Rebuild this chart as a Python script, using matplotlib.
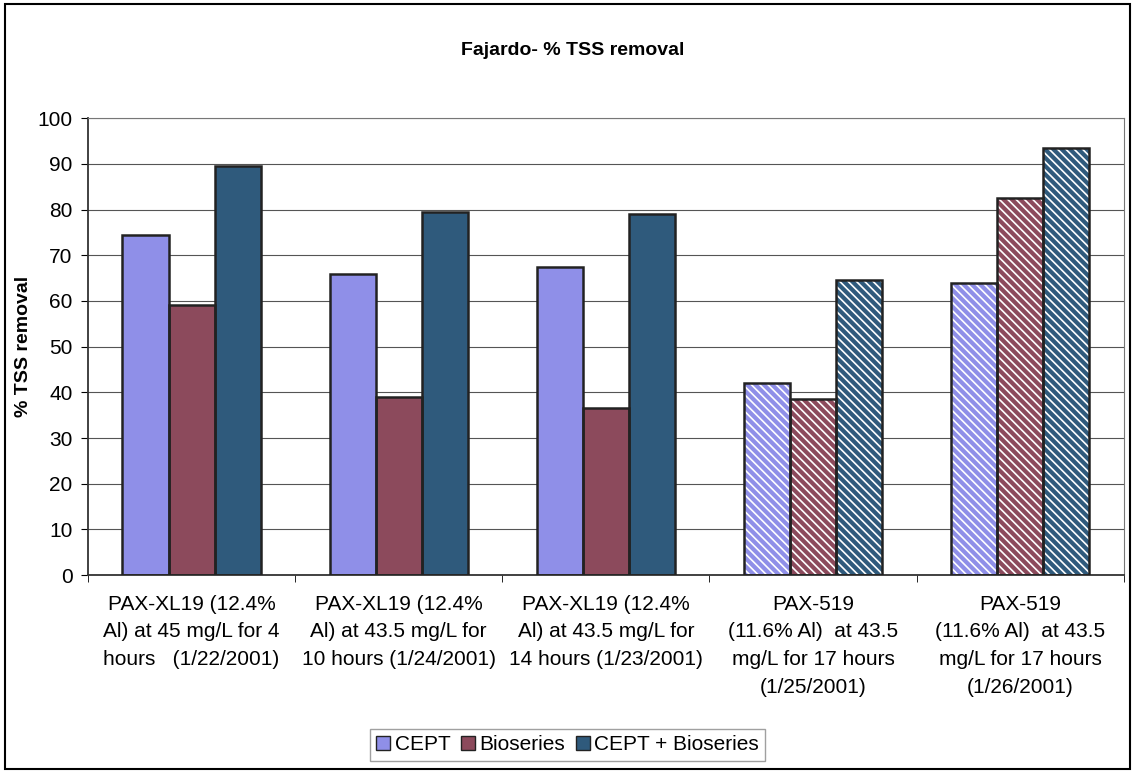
import matplotlib.pyplot as plt
from matplotlib.patches import Patch
import numpy as np

plt.rcParams['font.family'] = ['Liberation Sans', 'DejaVu Sans']
plt.rcParams['hatch.linewidth'] = 1.2

categories = ["PAX-XL19 (12.4%\nAl) at 45 mg/L for 4\nhours   (1/22/2001)",
              "PAX-XL19 (12.4%\nAl) at 43.5 mg/L for\n10 hours (1/24/2001)",
              "PAX-XL19 (12.4%\nAl) at 43.5 mg/L for\n14 hours (1/23/2001)",
              "PAX-519\n(11.6% Al)  at 43.5\nmg/L for 17 hours\n(1/25/2001)",
              "PAX-519\n(11.6% Al)  at 43.5\nmg/L for 17 hours\n(1/26/2001)"]
cept = [74.5, 66, 67.5, 42, 64]
bioseries = [59, 39, 36.5, 38.5, 82.5]
cept_bio = [89.5, 79.5, 79, 64.5, 93.5]
hatched = [False, False, False, True, True]

series = [("CEPT", cept, "#8f8fe8"),
          ("Bioseries", bioseries, "#8c4a5c"),
          ("CEPT + Bioseries", cept_bio, "#2f5a7c")]

fig = plt.figure(figsize=(11.35, 7.72), dpi=100)
fig.patches.append(plt.Rectangle((0.004, 0.004), 0.992, 0.991, transform=fig.transFigure,
                                 fill=False, edgecolor='black', linewidth=1.5))
ax = fig.add_axes([0.0775, 0.255, 0.9125, 0.592])

x = np.arange(len(categories))
w = 1 / 4.5
handles = []
for i, (name, vals, col) in enumerate(series):
    pos = x + (i - 1) * w
    for j in range(len(vals)):
        if hatched[j]:
            ax.bar(pos[j], vals[j], w, color=col, edgecolor='white', hatch='\\\\\\\\', linewidth=0, zorder=2)
        else:
            ax.bar(pos[j], vals[j], w, color=col, linewidth=0, zorder=2)
        ax.bar(pos[j], vals[j], w, fill=False, edgecolor='#222222', linewidth=1.8, zorder=3)
    handles.append(Patch(facecolor=col, edgecolor='#222222', label=name))

ax.set_xlim(-0.5, 4.5)
ax.set_ylim(0, 100)
ax.set_yticks(range(0, 101, 10))
ax.yaxis.grid(True, color='#555555', linewidth=0.8, zorder=0)
ax.set_axisbelow(True)
ax.set_xticks(x)
ax.set_xticklabels(categories, fontsize=15, linespacing=1.58)
ax.tick_params(axis='x', length=0, pad=14)
ax.set_xticks(np.arange(-0.5, 5, 1), minor=True)
ax.tick_params(axis='x', which='minor', length=5, direction='out')
ax.tick_params(axis='y', labelsize=15, length=5, pad=6)
for s in ax.spines.values():
    s.set_color('#777777')
ax.spines['left'].set_color('#333333')
ax.spines['bottom'].set_color('#333333')
ax.spines['left'].set_linewidth(1.3)
ax.spines['bottom'].set_linewidth(1.3)
ax.set_ylabel("% TSS removal", fontsize=14, fontweight='bold', labelpad=4)
fig.text(0.505, 0.935, "Fajardo- % TSS removal", ha='center', va='center',
         fontsize=14, fontweight='bold')
fig.legend(handles=handles, loc='center', bbox_to_anchor=(0.500, 0.035), ncol=3, fontsize=15,
           frameon=True, fancybox=False, edgecolor='#888888', handlelength=0.7,
           handleheight=0.7, handletextpad=0.2, columnspacing=0.5, borderpad=0.3)

plt.savefig("out.png")
